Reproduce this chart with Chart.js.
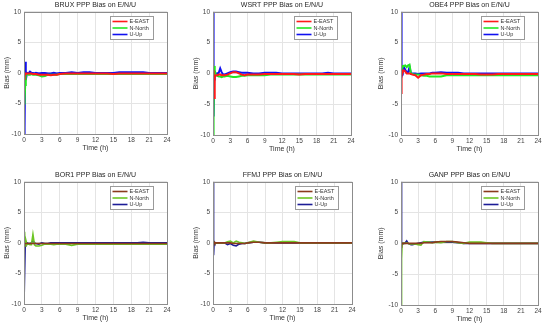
<!DOCTYPE html>
<html>
<head>
<meta charset="utf-8">
<script src="https://cdn.jsdelivr.net/npm/chart.js@4.4.0/dist/chart.umd.min.js"></script>
<style>
    body { margin: 0; background: #fff; width: 550px; height: 326px; position: relative; overflow: hidden; }
    canvas { position: absolute; }
</style>
</head>
<body>
<script>
// time axis (h), shared by every station
const hours = [0, 0.1, 0.2, 0.3, 0.5, 0.75, 1, 1.25, 1.5, 1.75, 2, 2.5, 3, 3.5, 4, 4.5, 5, 5.5, 6, 7, 8, 9, 10, 11, 12, 13, 14, 15, 16, 17, 18, 19, 20, 21, 22, 23, 24];
const xTicks = [0, 3, 6, 9, 12, 15, 18, 21, 24];
const yTicks = [-10, -5, 0, 5, 10];
const seriesNames = ["E-EAST", "N-North", "U-Up"];
const stations = ["BRUX", "WSRT", "OBE4", "BOR1", "FFMJ", "GANP"];

// bias values (mm)
const bruxE = [-1, -0.5, -0.2, -0.1, -0.1, -0.1, -0.1, -0.1, -0.2, -0.2, -0.2, -0.3, -0.3, -0.3, -0.3, -0.4, -0.3, -0.3, -0.2, -0.1, -0.1, -0.1, -0.1, -0.1, -0.1, -0.1, -0.1, -0.2, -0.1, -0.1, -0.1, -0.1, -0.1, -0.1, -0.1, -0.1, -0.1];
const bruxN = [-5, -4.5, -2, -0.3, -0.2, -0.3, -0.3, -0.2, -0.3, -0.3, -0.3, -0.4, -0.6, -0.5, -0.3, -0.3, -0.3, -0.3, -0.2, -0.2, -0.2, -0.2, -0.2, -0.2, -0.2, -0.2, -0.2, -0.2, -0.2, -0.2, -0.2, -0.2, -0.2, -0.2, -0.2, -0.2, -0.2];
const bruxU = [-10, -9, 1.8, -1.2, 0, -0.1, 0.2, 0, 0, -0.1, 0, -0.1, 0, 0, -0.1, -0.1, 0, -0.1, 0, 0, 0.1, 0, 0.1, 0.1, 0, 0, 0, 0, 0.1, 0.1, 0.1, 0.1, 0.1, 0, 0, 0, 0];

const wsrtE = [0, 0.5, -4, -0.5, -0.3, -0.3, -0.2, -0.2, -0.3, -0.3, -0.3, -0.2, 0, 0.2, 0.2, 0, -0.2, -0.3, -0.2, -0.2, -0.2, -0.1, -0.1, -0.1, -0.1, -0.1, -0.1, -0.2, -0.1, -0.1, -0.1, -0.1, -0.1, -0.1, -0.1, -0.1, -0.1];
const wsrtN = [-10, -7, 1.2, 0.5, -0.3, -0.4, -0.5, -0.5, -0.6, -0.5, -0.5, -0.4, -0.5, -0.6, -0.6, -0.5, -0.4, -0.4, -0.3, -0.3, -0.3, -0.3, -0.2, -0.2, -0.2, -0.2, -0.2, -0.2, -0.2, -0.2, -0.2, -0.2, -0.2, -0.2, -0.2, -0.2, -0.2];
const wsrtU = [10, -7, -1, 0, 0, 0, 0.1, 0.8, 0.2, -0.2, -0.2, 0, 0.2, 0.3, 0.3, 0.2, 0.1, 0.1, 0.1, 0, 0, 0.1, 0.1, 0.1, 0, 0, 0, 0, 0, 0, 0, 0, 0.1, 0, 0, 0, 0];

const obe4E = [-3.2, -0.5, 0.2, 0.4, 0.5, 0.3, 0, 0, 0, -0.1, -0.2, -0.3, -0.7, -0.3, -0.2, -0.1, -0.1, 0, 0, 0, -0.1, -0.1, -0.1, -0.1, -0.1, -0.1, -0.2, -0.2, -0.2, -0.1, -0.1, -0.1, -0.1, -0.1, -0.1, -0.1, -0.1];
const obe4N = [0, 0.5, 1.0, 1.2, 1.2, 1.3, 1.0, 1.3, 1.4, -0.1, -0.1, -0.2, -0.2, -0.3, -0.4, -0.4, -0.5, -0.5, -0.5, -0.5, -0.3, -0.3, -0.3, -0.3, -0.3, -0.3, -0.3, -0.3, -0.3, -0.3, -0.3, -0.3, -0.3, -0.3, -0.3, -0.3, -0.3];
const obe4U = [10, -0.5, -0.2, 0.3, 1.0, 0.6, 0.2, 0.2, 1.0, 0, 0, 0, -0.1, 0, 0, 0, 0, 0.1, 0.1, 0.2, 0.1, 0.1, 0.1, 0, 0, 0, 0, 0, 0, 0, 0, 0, 0, 0, 0, 0, 0];

const bor1E = [-0.5, -0.2, -0.1, -0.1, -0.1, -0.1, -0.1, -0.1, -0.1, -0.1, -0.1, -0.1, -0.1, -0.1, -0.1, -0.1, -0.1, -0.1, -0.1, -0.1, -0.1, -0.1, -0.1, -0.1, -0.1, -0.1, -0.1, -0.1, -0.1, -0.1, -0.1, -0.1, -0.1, -0.1, -0.1, -0.1, -0.1];
const bor1N = [0, 1.8, -0.5, 0.5, -0.3, -0.2, -0.3, -0.3, 1.4, -0.3, -0.5, -0.5, -0.4, -0.2, -0.2, -0.2, -0.3, -0.2, -0.2, -0.2, -0.4, -0.2, -0.2, -0.2, -0.2, -0.2, -0.2, -0.2, -0.2, -0.2, -0.2, -0.2, -0.2, -0.2, -0.2, -0.2, -0.2];
const bor1U = [-10, -10, -0.5, 0, 0, -0.1, -0.1, 0, 0.4, 0, -0.1, -0.2, 0, -0.1, -0.1, 0, 0, 0, 0, 0, 0, 0, 0, 0, 0, 0, 0, 0, 0, 0, 0, 0, 0.1, 0, 0, 0, 0];

const ffmjE = [0, -0.5, 0.1, 0, 0, 0, 0, 0, 0, 0, 0, 0, 0, -0.1, -0.1, -0.1, -0.1, -0.1, 0, 0.1, 0.1, 0, 0, 0, 0, 0, 0, 0, 0, 0, 0, 0, 0, 0, 0, 0, 0];
const ffmjN = [0, 0.2, 0.1, 0, 0, 0, 0, 0, 0, 0, 0, 0.2, 0.3, 0, 0.3, 0.1, 0, -0.1, 0, 0.3, 0.1, 0, 0, 0.1, 0.2, 0.2, 0.2, 0, 0, 0, 0, 0, 0, 0, 0, 0, 0];
const ffmjU = [10, -2, 0.2, 0, 0, 0, 0, 0, 0, 0, 0, -0.3, -0.1, -0.4, -0.5, -0.2, -0.1, -0.1, 0, 0.1, 0.1, 0, 0, 0, 0, 0, 0, 0, 0, 0, 0, 0, 0, 0, 0, 0, 0];

const ganpE = [0, -0.2, 0, 0, 0, 0, 0, 0, 0, 0, 0, 0, 0, 0, 0.1, 0.1, 0.1, 0.1, 0.2, 0.3, 0.3, 0.3, 0.2, 0.1, 0, 0, 0, 0, 0, 0, 0, 0, 0, 0, 0, 0, 0];
const ganpN = [-10, -2.5, 0, 0, 0, 0, 0.1, 0, -0.1, -0.1, -0.1, -0.1, -0.2, -0.3, 0.3, 0.2, 0.2, 0.1, 0.2, 0.1, 0.3, 0.3, 0.1, 0, 0.2, 0.2, 0.2, 0.1, 0, 0, 0, 0, 0, 0, 0, 0, 0];
const ganpU = [10, -0.3, -0.1, 0, 0, 0.1, 0.4, 0, -0.1, -0.2, -0.2, -0.1, 0, 0.1, 0.2, 0.2, 0.2, 0.2, 0.2, 0.2, 0.2, 0.2, 0.1, 0, 0, 0, 0, 0, 0, 0, 0, 0, 0, 0, 0, 0, 0];

const stationSeries = [
    [bruxE, bruxN, bruxU],
    [wsrtE, wsrtN, wsrtU],
    [obe4E, obe4N, obe4U],
    [bor1E, bor1N, bor1U],
    [ffmjE, ffmjN, ffmjU],
    [ganpE, ganpN, ganpU]
];

const topColors = ["#ff1a1a", "#22e622", "#1010f0"];
const bottomColors = ["#8a3a1c", "#6cc524", "#1c1c96"];

// plot-area boxes in page pixels: left, right, top, bottom, y axis width
const frames = [
    [24, 167, 12, 134, 24],
    [213, 351, 12, 135, 24],
    [401, 538, 12, 135, 27],
    [24, 167, 182, 304, 24],
    [213, 352, 182, 304, 24],
    [401, 538, 182, 305, 27]
];

const frameAndLegend = {
    id: "frameAndLegend",
    afterDatasetsDraw(chart) {
        const ctx = chart.ctx;
        const ca = chart.chartArea;
        ctx.save();
        ctx.strokeStyle = "#8c8c8c";
        ctx.lineWidth = 1;
        ctx.strokeRect(Math.round(ca.left) + 0.5, Math.round(ca.top) + 0.5,
            Math.round(ca.right - ca.left), Math.round(ca.bottom - ca.top));

        // legend box
        const w = 43, h = 23;
        const lx = Math.round(ca.right - 14 - w) + 0.5;
        const ly = Math.round(ca.top + 4) + 0.5;
        ctx.fillStyle = "#fff";
        ctx.fillRect(lx, ly, w, h);
        ctx.strokeStyle = "#9a9a9a";
        ctx.strokeRect(lx, ly, w, h);
        ctx.font = "5.5px 'Liberation Sans', Arial, sans-serif";
        ctx.textBaseline = "middle";
        chart.data.datasets.forEach((ds, i) => {
            const yy = ly + 5 + i * 6.5;
            ctx.strokeStyle = ds.borderColor;
            ctx.lineWidth = 1.6;
            ctx.beginPath();
            ctx.moveTo(lx + 2, yy);
            ctx.lineTo(lx + 17, yy);
            ctx.stroke();
            ctx.fillStyle = "#333";
            ctx.fillText(ds.label, lx + 19, yy);
        });
        ctx.restore();
    }
};

function makePanel(i) {
    const [pl, pr, pt, pb, yw] = frames[i];
    const canvas = document.createElement("canvas");
    const left = pl - yw;
    const top = pt - 12;
    const width = pr - left + 8;
    const height = pb - top + 18;
    canvas.style.left = left + "px";
    canvas.style.top = top + "px";
    canvas.style.width = width + "px";
    canvas.style.height = height + "px";
    canvas.width = width;
    canvas.height = height;
    document.body.appendChild(canvas);

    const colors = i < 3 ? topColors : bottomColors;
    const lw = i < 3 ? 2 : 1.6;
    const family = "'Liberation Sans', Arial, sans-serif";
    const tickFont = { family: family, size: 6.5 };

    new Chart(canvas, {
        type: "line",
        data: {
            datasets: stationSeries[i].map((vals, k) => ({
                label: seriesNames[k],
                data: hours.map((h, j) => ({ x: h, y: vals[j] })),
                borderColor: colors[k],
                borderWidth: lw,
                pointRadius: 0,
                tension: 0,
                fill: false
            }))
        },
        options: {
            responsive: false,
            animation: false,
            layout: { padding: { left: 0, right: 8, top: 0, bottom: 0 } },
            scales: {
                x: {
                    type: "linear",
                    min: 0,
                    max: 24,
                    afterBuildTicks: s => { s.ticks = xTicks.map(v => ({ value: v })); },
                    afterFit: s => { s.height = 18; },
                    grid: { color: "#e4e4e4", drawTicks: false },
                    border: { display: false },
                    ticks: { color: "#444", font: tickFont, padding: 2, maxRotation: 0 },
                    title: { display: true, text: "Time (h)", color: "#333", font: { family: family, size: 7 }, padding: { top: 0, bottom: 0 } }
                },
                y: {
                    min: -10,
                    max: 10,
                    afterBuildTicks: s => { s.ticks = yTicks.map(v => ({ value: v })); },
                    afterFit: s => { s.width = yw; },
                    grid: { color: "#e4e4e4", drawTicks: false },
                    border: { display: false },
                    ticks: { color: "#444", font: tickFont, padding: 3 },
                    title: { display: true, text: "Bias (mm)", color: "#333", font: { family: family, size: 7 }, padding: { top: 3, bottom: 0 } }
                }
            },
            plugins: {
                legend: { display: false },
                tooltip: { enabled: false },
                title: {
                    display: true,
                    fullSize: false,
                    text: stations[i] + " PPP Bias on E/N/U",
                    color: "#262626",
                    font: { family: family, size: 7, weight: "normal", lineHeight: 1.25 },
                    padding: { top: 1, bottom: 2 }
                }
            }
        },
        plugins: [frameAndLegend]
    });
}

stations.forEach((s, i) => makePanel(i));
</script>
</body>
</html>
